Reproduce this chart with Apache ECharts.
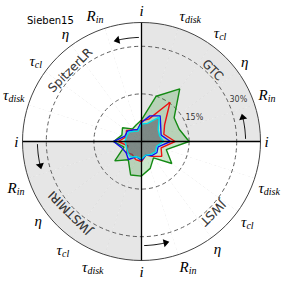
<!DOCTYPE html>
<html><head><meta charset="utf-8">
<script src="https://cdn.jsdelivr.net/npm/echarts@6/dist/echarts.min.js"></script>
<style>html,body{margin:0;padding:0;background:#fff}#c{width:283px;height:283px}</style>
</head><body><div id="c"></div>
<script>
// spokes, counter-clockwise from 3 o'clock, 18 degrees apart
const spokeLabels = ['i','Rin','eta','taucl','taudisk','i','Rin','eta','taucl','taudisk',
                     'i','Rin','eta','taucl','taudisk','i','Rin','eta','taucl','taudisk'];
// values in percent
const greenVals = [15,12.5,12.7,20.5,15,6.8,5.5,4.9,7.4,6.5,8.8,5.8,10.4,7.1,11.1,10.9,8.9,6.4,11.8,8.2];
const redVals   = [10.6,7.4,9,15.3,7.4,6.5,3.7,4.5,5.9,5,7.3,4.5,5.9,5,6,6.3,4.5,5.8,7.9,6.5];
const blueVals  = [9.1,6.5,7.5,10,8.5,6,4,4.5,5.5,5.5,8.8,6.5,6,7,5,6,4.5,5.5,6,5.5];
const cyanVals  = [7,6,6.5,9.5,6,5.5,3.5,4,5,5,5.2,5,5.5,6,5,5.5,4.5,5,5.5,5];
const quadrantNames = ['GTC','SpitzerLR','JWSTMIRI','JWST'];
const ringTicks = [15, 30];
const rMax = 37.5;

const step = 360 / spokeLabels.length;
const labelFmt = {
  i: '{m|i}', Rin: '{m|R}{s|in}', eta: '{m|η}', taucl: '{m|τ}{s|cl}', taudisk: '{m|τ}{s|disk}'
};
function toPolar(vals) {
  const d = vals.map((v, k) => [v, k * step]);
  d.push([vals[0], 360]);
  return d;
}
const shade = spokeLabels.map((_, k) => (Math.floor(k / 5) % 2 === 0 ? '#e6e6e6' : '#ffffff'));

function lineSeries(name, vals, color, fill, z) {
  return {
    name, type: 'line', coordinateSystem: 'polar', data: toPolar(vals),
    symbol: 'none', smooth: false, z,
    lineStyle: { color, width: 1.4 },
    areaStyle: fill ? { color: fill, opacity: 1 } : undefined
  };
}

const iAngles = spokeLabels.map((l, k) => l === 'i' ? k * step : null).filter(a => a !== null);
const arrowR = 32.8;

const chart = echarts.init(document.getElementById('c'), null, { renderer: 'svg' });
chart.setOption({
  animation: false,
  backgroundColor: '#ffffff',
  title: { text: 'Sieben15', left: 22, top: 10,
    textStyle: { fontSize: 10, fontWeight: 'normal', fontFamily: 'DejaVu Sans', color: '#000' } },
  polar: { center: ['50%', '50%'], radius: 119 },
  angleAxis: {
    type: 'value', min: 0, max: 360, interval: step, startAngle: 0, clockwise: false,
    axisLine: { lineStyle: { color: '#444', width: 1 } },
    axisTick: { show: false },
    axisLabel: {
      margin: 4,
      formatter: v => labelFmt[spokeLabels[Math.round(v / step) % spokeLabels.length]],
      rich: {
        m: { fontFamily: 'Liberation Serif', fontStyle: 'italic', fontSize: 15, color: '#000' },
        s: { fontFamily: 'Liberation Serif', fontStyle: 'italic', fontSize: 10, color: '#000', padding: [7, 0, 0, 0] }
      }
    },
    splitLine: { lineStyle: { color: '#bdbdbd', type: [3, 2], width: 0.8 } },
    splitArea: { show: true, areaStyle: { color: shade } }
  },
  radiusAxis: {
    type: 'value', min: 0, max: rMax, interval: 15,
    axisLine: { show: false }, axisTick: { show: false }, axisLabel: { show: false },
    splitLine: { show: false }
  },
  series: [
    {
      type: 'custom', coordinateSystem: 'polar', z: 1, silent: true,
      data: ringTicks.map(t => [t, 0]),
      renderItem: (params, api) => {
        const c = api.coord([0, 0]), p = api.coord([api.value(0), 0]);
        const r = Math.hypot(p[0] - c[0], p[1] - c[1]);
        return { type: 'circle', shape: { cx: c[0], cy: c[1], r },
          style: { stroke: '#5e5e5e', lineWidth: 1, lineDash: [4, 3], fill: null } };
      }
    },
    lineSeries('green', greenVals, '#138a13', 'rgba(0,128,0,0.2)', 3),
    lineSeries('red', redVals, '#ee1111', null, 4),
    lineSeries('blue', blueVals, '#1111ee', null, 5),
    lineSeries('cyan', cyanVals, '#00e0e8', 'rgba(85,88,100,0.6)', 6),
    {
      type: 'custom', coordinateSystem: 'polar', z: 10, silent: true,
      data: iAngles.map(a => [rMax, a]),
      renderItem: (params, api) => {
        const a = api.value(1);
        const p0 = api.coord([0, a]), p1 = api.coord([rMax, a]);
        return { type: 'line', shape: { x1: p0[0], y1: p0[1], x2: p1[0], y2: p1[1] },
          style: { stroke: '#000', lineWidth: 1.3 } };
      }
    },
    {
      type: 'custom', coordinateSystem: 'polar', z: 10, silent: true,
      data: iAngles.map(a => [arrowR, a]),
      renderItem: (params, api) => {
        const r = api.value(0), a0 = api.value(1) + 1.5, a1 = api.value(1) + 15.5;
        const pts = [];
        for (let a = a0; a <= a1 - 2; a += 0.5) pts.push(api.coord([r, a]));
        const tip = api.coord([r, a1]);
        const b1 = api.coord([r + 1.3, a1 - 3.2]);
        const b2 = api.coord([r - 1.3, a1 - 3.2]);
        return { type: 'group', children: [
          { type: 'polyline', shape: { points: pts }, style: { stroke: '#000', lineWidth: 1, fill: null } },
          { type: 'polygon', shape: { points: [tip, b1, b2] }, style: { fill: '#000' } }
        ] };
      }
    },
    {
      type: 'scatter', coordinateSystem: 'polar', symbolSize: 0, z: 11, silent: true,
      itemStyle: { color: 'transparent' },
      data: quadrantNames.map((n, q) => ({ value: [31.8, 45 + 90 * q], name: n,
        label: { rotate: 45 + 90 * q - 90 } })),
      label: { show: true, position: [0, 0], formatter: p => p.name,
        fontFamily: 'DejaVu Sans', fontSize: 12, color: '#000', align: 'center', verticalAlign: 'middle',
        textBorderWidth: 0.15, textBorderColor: '#000' }
    },
    {
      type: 'scatter', coordinateSystem: 'polar', symbolSize: 0, z: 11, silent: true,
      itemStyle: { color: 'transparent' },
      data: ringTicks.map(t => ({ value: [t, 22.5], name: t + '%' })),
      label: { show: true, position: [0, -5.5], formatter: p => p.name,
        fontFamily: 'DejaVu Sans', fontSize: 8, color: '#000', align: 'left', verticalAlign: 'middle',
        textBorderWidth: 0 }
    }
  ]
});
</script>
</body></html>
